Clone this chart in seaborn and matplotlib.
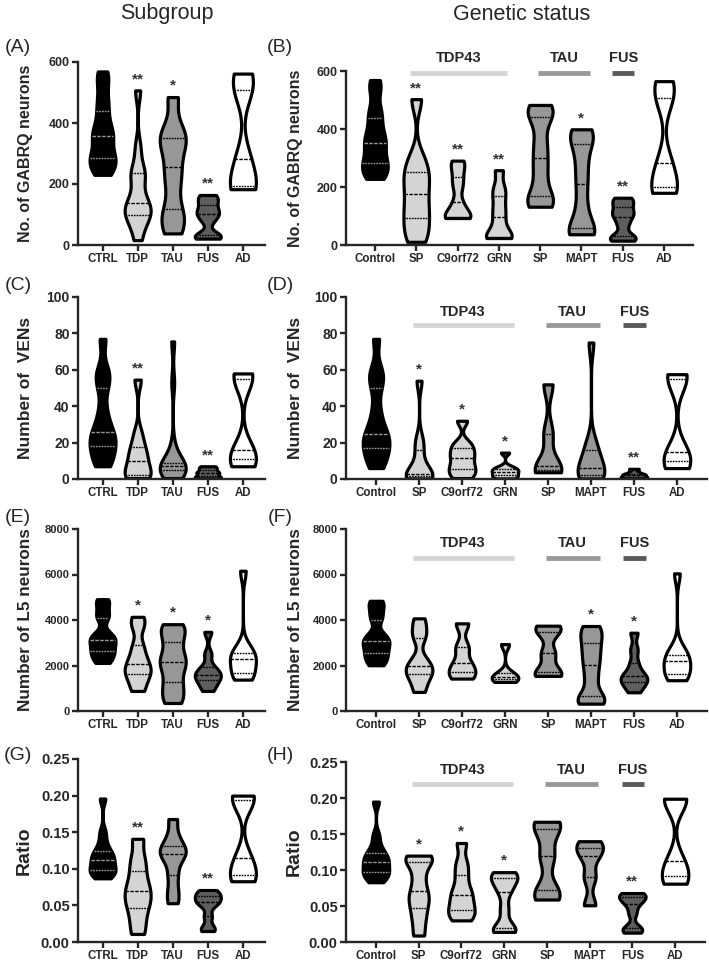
import pandas as pd
import seaborn as sns
import matplotlib.pyplot as plt
from matplotlib import transforms

sns.set_style('ticks')
plt.rcParams['font.family'] = ['Liberation Sans', 'DejaVu Sans']

W, H = 709, 967

# categories
sub_order = ['CTRL', 'TDP', 'TAU', 'FUS', 'AD']
gen_order = ['Control', 'SP_TDP', 'C9orf72', 'GRN', 'SP_TAU', 'MAPT', 'FUS', 'AD']
gen_labels = ['Control', 'SP', 'C9orf72', 'GRN', 'SP', 'MAPT', 'FUS', 'AD']
sub_colors = ['black', '#d4d4d4', '#979797', '#5e5e5e', 'white']
gen_colors = ['black', '#d4d4d4', '#d4d4d4', '#d4d4d4',
              '#979797', '#979797', '#5e5e5e', 'white']

gene_groups = ['TDP43', 'TAU', 'FUS']
gene_group_colors = ['#d4d4d4', '#999999', '#5a5a5a']

# GABRQ neurons
gabrq_sub = {
    'CTRL': [230, 250, 270, 284, 300, 330, 356, 370, 400, 440, 480, 530, 569],
    'TDP': [16, 60, 90, 99, 110, 125, 137, 160, 210, 235, 250, 320, 507],
    'TAU': [38, 80, 118, 200, 257, 320, 350, 380, 485],
    'FUS': [21, 28, 33, 80, 101, 110, 131, 150, 164],
    'AD': [183, 195, 282, 507, 562],
}
gabrq_gen = {
    'Control': [228, 245, 265, 282, 300, 330, 353, 370, 400, 437, 470, 530, 569],
    'SP_TDP': [11, 50, 92, 130, 175, 220, 253, 300, 503],
    'C9orf72': [93, 95, 97, 120, 148, 200, 234, 270, 291],
    'GRN': [24, 26, 28, 60, 97, 130, 169, 200, 258],
    'SP_TAU': [132, 150, 169, 240, 299, 360, 443, 460, 483],
    'MAPT': [37, 45, 57, 130, 210, 280, 348, 380, 399],
    'FUS': [15, 22, 31, 70, 98, 110, 130, 150, 163],
    'AD': [180, 200, 282, 506, 565],
}
gabrq_sub_stars = ['', '**', '*', '**', '']
gabrq_gen_stars = ['', '**', '**', '**', '', '*', '**', '']

# VENs
vens_sub = {
    'CTRL': [7, 10, 14, 18, 20, 23, 26, 30, 38, 50, 56, 60, 77],
    'TDP': [0.5, 1, 2.4, 6, 10, 14, 17.6, 25, 54.6],
    'TAU': [0.5, 2, 4, 4.8, 5.5, 6.5, 7, 7.5, 8.5, 9, 18, 53, 75.6],
    'FUS': [0.3, 1, 1.5, 2.5, 3.3, 4, 5, 6, 7],
    'AD': [7, 11, 16, 55, 58],
}
vens_gen = {
    'Control': [6, 10, 14, 17, 20, 23, 25, 30, 38, 50, 56, 60, 77],
    'SP_TDP': [0.3, 1, 1.5, 2, 2.5, 8, 16, 22, 54],
    'C9orf72': [0.5, 3, 5.6, 8, 11.5, 14, 17, 20, 32],
    'GRN': [0.3, 1, 2, 3, 4, 5, 5.6, 7, 14.5],
    'SP_TAU': [3.7, 5, 7, 25, 52],
    'MAPT': [0.3, 1, 2.2, 4, 6, 10, 16, 20, 75],
    'FUS': [0.2, 0.6, 1, 1.5, 2, 2.5, 3, 4, 5.6],
    'AD': [6, 10, 15, 55, 57.6],
}
vens_sub_stars = ['', '**', '', '**', '']
vens_gen_stars = ['', '*', '*', '*', '', '', '**', '']

# L5 neurons
l5_sub = {
    'CTRL': [2114, 2300, 2500, 2642, 2800, 3000, 3141, 3250, 3400, 4066, 4300, 4700, 4917],
    'TDP': [881, 1300, 1644, 1800, 2084, 2400, 2890, 3700, 4140],
    'TAU': [352, 800, 1262, 1800, 2158, 2500, 3038, 3500, 3816],
    'FUS': [881, 1150, 1350, 1500, 1600, 1750, 1938, 2500, 3479],
    'AD': [1380, 1500, 1688, 2000, 2275, 2400, 2554, 2800, 6165],
}
l5_gen = {
    'Control': [2011, 2200, 2400, 2570, 2750, 2950, 3068, 3200, 3400, 4000, 4300, 4650, 4845],
    'SP_TDP': [838, 1300, 1618, 1800, 1985, 2300, 3190, 3600, 4073],
    'C9orf72': [1426, 1720, 2088, 2800, 3853],
    'GRN': [1279, 1400, 1500, 1650, 2941],
    'SP_TAU': [1544, 1720, 2529, 3485, 3750],
    'MAPT': [323, 450, 660, 1400, 2011, 2500, 2970, 3400, 3735],
    'FUS': [823, 1100, 1279, 1400, 1529, 1700, 2100, 2700, 3441],
    'AD': [1353, 1500, 1645, 1900, 2187, 2300, 2481, 2800, 6050],
}
l5_sub_stars = ['', '*', '*', '*', '']
l5_gen_stars = ['', '', '', '', '', '*', '*', '']

# ratio
ratio_sub = {
    'CTRL': [0.087, 0.092, 0.095, 0.098, 0.102, 0.107, 0.112, 0.116, 0.12, 0.125, 0.135, 0.15, 0.196],
    'TDP': [0.011, 0.03, 0.047, 0.058, 0.069, 0.08, 0.097, 0.115, 0.141],
    'TAU': [0.053, 0.07, 0.091, 0.11, 0.12, 0.125, 0.131, 0.145, 0.168],
    'FUS': [0.015, 0.02, 0.035, 0.05, 0.055, 0.058, 0.063, 0.067, 0.071],
    'AD': [0.083, 0.092, 0.115, 0.194, 0.2],
}
ratio_gen = {
    'Control': [0.083, 0.089, 0.093, 0.097, 0.101, 0.106, 0.111, 0.115, 0.119, 0.124, 0.133, 0.148, 0.195],
    'SP_TDP': [0.009, 0.03, 0.047, 0.06, 0.071, 0.09, 0.111, 0.116, 0.12],
    'C9orf72': [0.03, 0.038, 0.045, 0.055, 0.065, 0.075, 0.093, 0.11, 0.1375],
    'GRN': [0.014, 0.017, 0.02, 0.045, 0.069, 0.08, 0.089, 0.093, 0.097],
    'SP_TAU': [0.059, 0.072, 0.119, 0.157, 0.167],
    'MAPT': [0.051, 0.09, 0.119, 0.131, 0.14],
    'FUS': [0.013, 0.017, 0.02, 0.04, 0.053, 0.058, 0.063, 0.066, 0.068],
    'AD': [0.081, 0.092, 0.113, 0.198, 0.199],
}
ratio_sub_stars = ['', '**', '', '**', '']
ratio_gen_stars = ['', '*', '*', '*', '', '', '**', '']


def add_axes(fig, left, top, right, bottom):
    return fig.add_axes([left / W, 1 - bottom / H, (right - left) / W, (bottom - top) / H])


def draw_panel(ax, data, order, ticklabels, colors, stars, width, ymax, step,
               fmt, ylabel, ylab_size, ytick_size):
    df = pd.DataFrame([(k, v) for k in order for v in data[k]],
                      columns=['group', 'value'])
    sns.violinplot(data=df, x='group', y='value', order=order, hue='group',
                   hue_order=order, palette=colors, saturation=1, legend=False,
                   cut=0, inner='quart', density_norm='width', width=width,
                   bw_adjust=0.45, linewidth=2.3, linecolor='black',
                   inner_kws=dict(linewidth=1.0), ax=ax)
    # quartile lines on the black violin are grey
    for ln in ax.lines[:3]:
        ln.set_color('0.6')
    for i, s in enumerate(stars):
        if s:
            ax.text(i, max(data[order[i]]) + 0.04 * ymax, s, ha='center',
                    va='baseline', fontsize=11, fontweight='bold', color='#333333')
    ax.set_ylim(0, ymax)
    ax.set_xlim(-0.7, 4.63 if len(order) == 5 else 7.7)
    nt = int(round(ymax / step)) + 1
    ax.set_yticks([step * k for k in range(nt)])
    ax.set_yticklabels([fmt.format(step * k) for k in range(nt)],
                       fontsize=ytick_size, fontweight='bold')
    ax.set_xticks(range(len(order)))
    ax.set_xticklabels(ticklabels, fontsize=8.3, fontweight='bold')
    ax.set_xlabel('')
    ax.set_ylabel(ylabel, fontsize=ylab_size, fontweight='bold')
    sns.despine(ax=ax)
    for sp in ['left', 'bottom']:
        ax.spines[sp].set_linewidth(1.7)
    ax.tick_params(width=1.7, length=4, pad=2)


def draw_groups(ax, bar_y, text_y):
    trans = transforms.blended_transform_factory(ax.transData, ax.transAxes)
    spans = [(0.85, 3.2), (3.95, 5.2), (5.75, 6.28)]
    for name, (x0, x1), c in zip(gene_groups, spans, gene_group_colors):
        ax.plot([x0, x1], [bar_y, bar_y], color=c, lw=3.5, solid_capstyle='butt',
                transform=trans, clip_on=False)
        ax.text((x0 + x1) / 2, text_y, name, ha='center', va='center',
                fontsize=10.5, fontweight='bold', transform=trans)


fig = plt.figure(figsize=(W / 100, H / 100), dpi=100)

fig.text(167 / W, 1 - 14 / H, 'Subgroup', ha='center', va='center', fontsize=15.5)
fig.text(522 / W, 1 - 14 / H, 'Genetic status', ha='center', va='center', fontsize=15.5)

rows = [
    # left box, right box, data, stars, ymax, step, fmt, ylabel, sizes, group bar/text y
    ((78, 62, 265, 245), (346, 71, 693, 245), gabrq_sub, gabrq_gen,
     gabrq_sub_stars, gabrq_gen_stars, 600, 200, '{:.0f}',
     'No. of GABRQ neurons', 11.5, 9, 0.99, 1.075, ('(A)', '(B)'), 47),
    ((78, 297, 265, 479), (346, 297, 707, 479), vens_sub, vens_gen,
     vens_sub_stars, vens_gen_stars, 100, 20, '{:.0f}',
     'Number of  VENs', 12.5, 10, 0.846, 0.918, ('(C)', '(D)'), 285),
    ((78, 529, 265, 711), (346, 529, 707, 711), l5_sub, l5_gen,
     l5_sub_stars, l5_gen_stars, 8000, 2000, '{:.0f}',
     'Number of L5 neurons', 12.3, 8, 0.84, 0.923, ('(E)', '(F)'), 517),
    ((78, 759, 265, 942), (346, 762, 705, 942), ratio_sub, ratio_gen,
     ratio_sub_stars, ratio_gen_stars, 0.25, 0.05, '{:.2f}',
     'Ratio', 14, 10.5, 0.878, 0.956, ('(G)', '(H)'), 755),
]

for (lbox, rbox, dsub, dgen, ssub, sgen, ymax, step, fmt, ylab, ylab_size,
     ytick_size, bar_y, text_y, tags, tag_y) in rows:
    ax_l = add_axes(fig, *lbox)
    draw_panel(ax_l, dsub, sub_order, sub_order, sub_colors, ssub, 0.74,
               ymax, step, fmt, ylab, ylab_size, ytick_size)
    ax_l.yaxis.set_label_coords((33 - lbox[0]) / (lbox[2] - lbox[0]), 0.5)
    ax_r = add_axes(fig, *rbox)
    draw_panel(ax_r, dgen, gen_order, gen_labels, gen_colors, sgen, 0.62,
               ymax, step, fmt, ylab, ylab_size, ytick_size)
    ax_r.yaxis.set_label_coords((303 - rbox[0]) / (rbox[2] - rbox[0]), 0.5)
    draw_groups(ax_r, bar_y, text_y)
    fig.text(18 / W, 1 - tag_y / H, tags[0], ha='center', va='center', fontsize=14)
    fig.text(280 / W, 1 - tag_y / H, tags[1], ha='center', va='center', fontsize=14)

fig.savefig('out.png', dpi=100)
